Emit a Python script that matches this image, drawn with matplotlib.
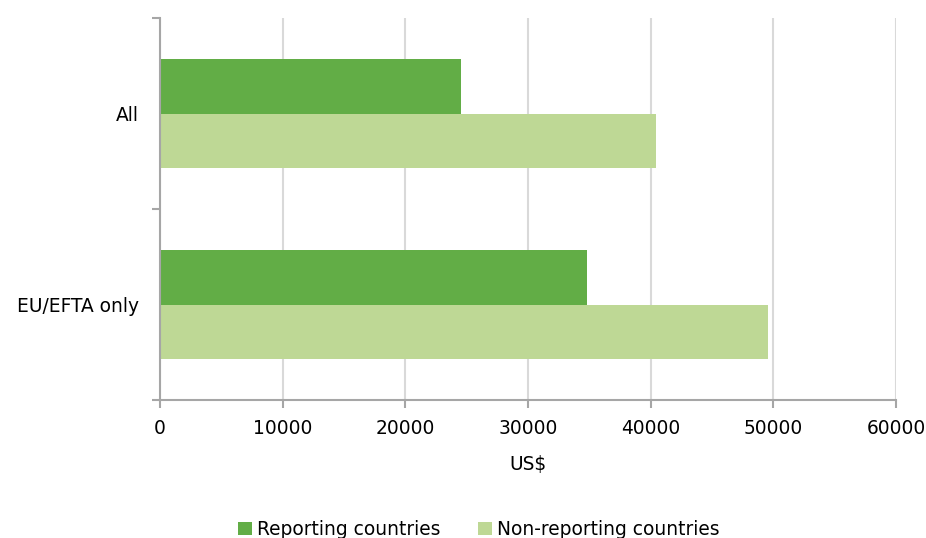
import matplotlib
matplotlib.use("Agg")
import matplotlib.pyplot as plt
import numpy as np

# Data
categories = ["EU/EFTA only", "All"]
reporting = [34800, 24500]
non_reporting = [49600, 40400]
series_names = ["Reporting countries", "Non-reporting countries"]
x_ticks = [0, 10000, 20000, 30000, 40000, 50000, 60000]

dark_green = "#62ad46"
light_green = "#bed895"
axis_grey = "#a6a6a6"
grid_grey = "#d9d9d9"

plt.rcParams["font.family"] = ["DejaVu Sans"]
plt.rcParams["font.size"] = 13.4

fig = plt.figure(figsize=(9.26, 5.38), dpi=100)
ax = fig.add_axes([160 / 926, 1 - 400 / 538, 736 / 926, 382 / 538])

y = np.arange(len(categories))
h = 0.283
ax.barh(y + h / 2, reporting, height=h, color=dark_green, label=series_names[0], zorder=3)
ax.barh(y - h / 2, non_reporting, height=h, color=light_green, label=series_names[1], zorder=3)

ax.set_xlim(0, 60000)
ax.set_ylim(-0.5, len(categories) - 0.5)
ax.set_xticks(x_ticks)
ax.set_xticklabels([str(v) for v in x_ticks])

# category boundaries as tick marks, labels centred
ax.set_yticks(np.arange(-0.5, len(categories), 1.0))
ax.set_yticklabels([])
ax.set_yticks(y, minor=True)
ax.set_yticklabels(categories, minor=True)
ax.tick_params(axis="y", which="major", length=6, color=axis_grey, width=1.5, direction="out")
ax.tick_params(axis="y", which="minor", length=0, pad=15)
ax.tick_params(axis="x", length=6, color=axis_grey, width=1.5, direction="out", pad=8)

ax.grid(axis="x", color=grid_grey, linewidth=1.5, zorder=0)
for side in ["top", "right"]:
    ax.spines[side].set_visible(False)
for side in ["left", "bottom"]:
    ax.spines[side].set_color(axis_grey)
    ax.spines[side].set_linewidth(1.5)
    ax.spines[side].set_zorder(4)

ax.set_xlabel("US$", labelpad=12)

fig.legend(loc="center", bbox_to_anchor=(0.517, 0.016), ncol=2, frameon=False,
           handlelength=0.75, handleheight=0.75, handletextpad=0.3, columnspacing=2.0)

fig.savefig("out.png", dpi=100)
